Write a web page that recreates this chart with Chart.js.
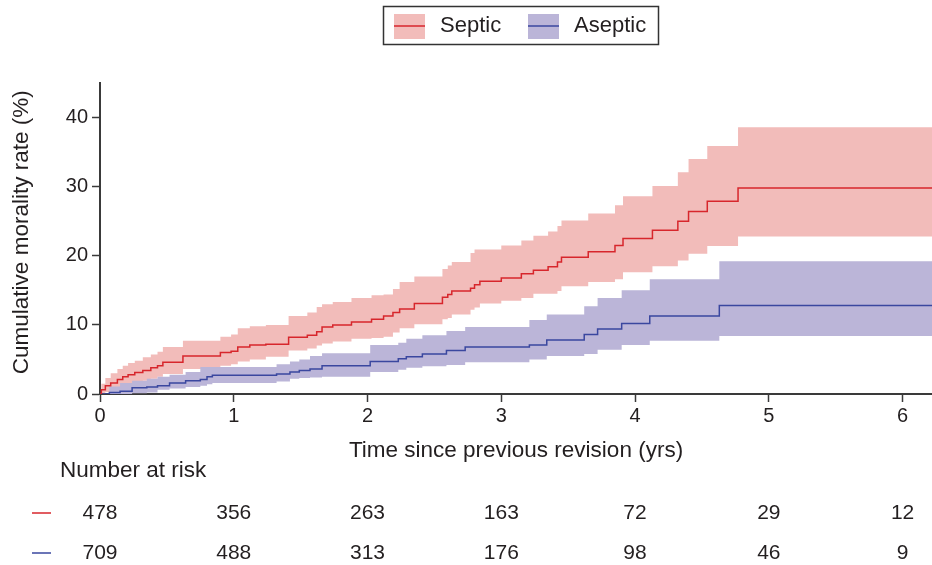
<!DOCTYPE html>
<html>
<head>
<meta charset="utf-8">
<script src="https://cdn.jsdelivr.net/npm/chart.js@4.4.0/dist/chart.umd.min.js"></script>
<style>
  html, body { margin: 0; padding: 0; background: #fff; }
</style>
</head>
<body>
<canvas id="kmChart" width="932" height="565"></canvas>
<script>
// cumulative mortality (%), step points
const septicTime  = [0, 0.01, 0.04, 0.08, 0.13, 0.17, 0.21, 0.26, 0.32, 0.38, 0.43, 0.47, 0.62, 0.90, 0.98, 1.03, 1.12, 1.24, 1.41, 1.55, 1.62, 1.66, 1.74, 1.88, 2.03, 2.12, 2.19, 2.24, 2.35, 2.56, 2.60, 2.63, 2.77, 2.80, 2.84, 3.00, 3.15, 3.24, 3.35, 3.42, 3.45, 3.65, 3.85, 3.91, 4.13, 4.32, 4.40, 4.54, 4.77, 6.22];
const septicRate  = [0, 0.6, 1.2, 1.6, 2.1, 2.5, 2.8, 3.1, 3.4, 3.8, 4.1, 4.6, 5.5, 6.0, 6.2, 6.8, 7.1, 7.2, 8.2, 8.5, 9.0, 9.7, 10.0, 10.4, 10.8, 11.3, 11.8, 12.3, 13.1, 14.0, 14.4, 14.9, 15.3, 15.8, 16.3, 16.8, 17.4, 17.9, 18.4, 19.1, 19.8, 20.6, 21.5, 22.5, 23.7, 25.0, 26.4, 27.9, 29.8, 29.8];
const septicLower = [0, 0.1, 0.3, 0.5, 0.8, 1.1, 1.3, 1.6, 1.9, 2.2, 2.5, 2.9, 3.6, 4.1, 4.3, 4.7, 5.0, 5.4, 6.3, 6.6, 7.0, 7.3, 7.6, 8.0, 8.1, 8.3, 8.9, 9.5, 10.1, 10.8, 11.0, 11.5, 12.2, 12.5, 13.1, 13.5, 13.9, 14.5, 14.5, 14.9, 15.6, 16.2, 16.6, 17.6, 18.5, 19.3, 20.3, 21.4, 22.8, 22.8];
const septicUpper = [0, 1.5, 2.3, 3.0, 3.6, 4.1, 4.5, 4.8, 5.3, 5.7, 6.1, 6.8, 7.7, 8.3, 8.6, 9.5, 9.8, 10.0, 11.3, 11.8, 12.6, 13.0, 13.3, 13.9, 14.3, 14.4, 15.2, 16.2, 17.0, 18.1, 18.6, 19.1, 20.4, 20.9, 20.9, 21.5, 22.2, 22.9, 23.5, 24.3, 25.1, 26.1, 27.3, 28.6, 30.1, 32.1, 34.0, 35.9, 38.6, 38.6];

const asepticTime  = [0, 0.07, 0.15, 0.24, 0.35, 0.43, 0.52, 0.64, 0.75, 0.80, 0.84, 1.32, 1.42, 1.49, 1.57, 1.66, 2.02, 2.23, 2.29, 2.41, 2.59, 2.73, 3.21, 3.34, 3.62, 3.72, 3.90, 4.11, 4.63, 6.22];
const asepticRate  = [0, 0.2, 0.4, 0.9, 1.0, 1.2, 1.6, 1.9, 2.1, 2.5, 2.7, 2.9, 3.2, 3.4, 3.6, 4.1, 4.7, 5.1, 5.4, 5.8, 6.3, 6.8, 7.1, 7.8, 8.6, 9.4, 10.2, 11.3, 12.8, 12.8];
const asepticLower = [0, 0.0, 0.0, 0.1, 0.2, 0.6, 0.8, 1.0, 1.2, 1.4, 1.6, 1.8, 2.2, 2.3, 2.4, 2.5, 3.2, 3.5, 3.8, 4.0, 4.2, 4.6, 5.0, 5.5, 5.8, 6.4, 7.1, 7.7, 8.4, 8.4];
const asepticUpper = [0, 1.1, 1.6, 1.9, 2.2, 2.5, 2.8, 3.2, 3.9, 3.9, 3.9, 4.3, 4.7, 5.0, 5.5, 5.9, 7.1, 7.4, 8.0, 8.5, 9.1, 9.7, 10.7, 11.5, 12.7, 13.9, 15.0, 16.6, 19.2, 19.2];

const xTicks = [0, 1, 2, 3, 4, 5, 6];
const yTicks = [0, 10, 20, 30, 40];
const groupNames = ['Septic', 'Aseptic'];
const septicRisk = [478, 356, 263, 163, 72, 29, 12];
const asepticRisk = [709, 488, 313, 176, 98, 46, 9];

const redLine = '#d7262c';
const redFill = '#f2bcba';
const blueLine = '#3a479f';
const blueFill = '#bbb5d8';
const textCol = '#231f20';
const axisCol = '#3a3a3a';
const FONT = "'Liberation Sans', Arial, sans-serif";

function pts(times, vals) {
  return times.map((t, i) => ({ x: t, y: vals[i] }));
}

function bandSet(data, col, fillTo, order) {
  return {
    data: data,
    borderWidth: 0,
    borderColor: col,
    backgroundColor: col,
    pointRadius: 0,
    stepped: true,
    fill: fillTo,
    order: order
  };
}

// legend box + number at risk table
const extras = {
  id: 'extras',
  afterDraw(chart) {
    const ctx = chart.ctx;
    const xs = chart.scales.x;
    ctx.save();

    // legend
    ctx.strokeStyle = '#333';
    ctx.lineWidth = 1.5;
    ctx.strokeRect(383.5, 6.5, 275, 38);
    const items = [
      { name: groupNames[0], x: 394, fill: redFill, line: redLine },
      { name: groupNames[1], x: 528, fill: blueFill, line: blueLine }
    ];
    ctx.font = '22px ' + FONT;
    ctx.textBaseline = 'middle';
    ctx.textAlign = 'left';
    items.forEach(it => {
      ctx.fillStyle = it.fill;
      ctx.fillRect(it.x, 14, 31, 25);
      ctx.strokeStyle = it.line;
      ctx.lineWidth = 1.5;
      ctx.beginPath();
      ctx.moveTo(it.x, 26);
      ctx.lineTo(it.x + 31, 26);
      ctx.stroke();
      ctx.fillStyle = textCol;
      ctx.fillText(it.name, it.x + 46, 26);
    });

    // number at risk
    ctx.font = '22.5px ' + FONT;
    ctx.fillStyle = textCol;
    ctx.fillText('Number at risk', 60, 471);
    const rows = [
      { vals: septicRisk, y: 513, col: redLine },
      { vals: asepticRisk, y: 553, col: blueLine }
    ];
    ctx.font = '21px ' + FONT;
    ctx.textAlign = 'center';
    rows.forEach(r => {
      ctx.strokeStyle = r.col;
      ctx.lineWidth = 1.5;
      ctx.beginPath();
      ctx.moveTo(32, r.y);
      ctx.lineTo(51, r.y);
      ctx.stroke();
      ctx.fillStyle = textCol;
      r.vals.forEach((v, i) => {
        ctx.fillText(String(v), xs.getPixelForValue(xTicks[i]), r.y);
      });
    });
    ctx.restore();
  }
};

new Chart('kmChart', {
  type: 'line',
  data: {
    datasets: [
      { data: pts(septicTime, septicRate), borderColor: redLine, borderWidth: 1.5, pointRadius: 0, stepped: true, fill: false, order: 0 },
      { data: pts(asepticTime, asepticRate), borderColor: blueLine, borderWidth: 1.5, pointRadius: 0, stepped: true, fill: false, order: 1 },
      bandSet(pts(asepticTime, asepticUpper), blueFill, 3, 2),
      bandSet(pts(asepticTime, asepticLower), blueFill, false, 3),
      bandSet(pts(septicTime, septicUpper), redFill, 5, 4),
      bandSet(pts(septicTime, septicLower), redFill, false, 5)
    ]
  },
  options: {
    responsive: false,
    animation: false,
    devicePixelRatio: 1,
    layout: { padding: { top: 83, right: 0, bottom: 0, left: 0 } },
    plugins: {
      legend: { display: false },
      tooltip: { enabled: false }
    },
    scales: {
      x: {
        type: 'linear',
        min: 0,
        max: 6.22,
        afterBuildTicks: s => { s.ticks = xTicks.map(v => ({ value: v })); },
        afterFit: s => { s.height = 171; },
        grid: { drawOnChartArea: false, drawTicks: true, tickLength: 8, color: axisCol, tickWidth: 1.5 },
        border: { display: true, color: axisCol, width: 2 },
        ticks: { color: textCol, font: { family: FONT, size: 20 }, padding: 2, maxRotation: 0 },
        title: {
          display: true,
          text: 'Time since previous revision (yrs)',
          color: textCol,
          font: { family: FONT, size: 22.5 },
          padding: { top: 0, bottom: 101 }
        }
      },
      y: {
        min: 0,
        max: 45,
        afterBuildTicks: s => { s.ticks = yTicks.map(v => ({ value: v })); },
        afterFit: s => { s.width = 100; },
        grid: { drawOnChartArea: false, drawTicks: true, tickLength: 8, color: axisCol, tickWidth: 1.5 },
        border: { display: true, color: axisCol, width: 2 },
        ticks: { color: textCol, font: { family: FONT, size: 20 }, padding: 4 },
        title: {
          display: true,
          // leading spaces nudge the rotated label up a little, as in the source
          text: '  Cumulative morality rate (%)',
          color: textCol,
          font: { family: FONT, size: 22.5 },
          padding: { top: 8, bottom: 0 }
        }
      }
    }
  },
  plugins: [extras]
});
</script>
</body>
</html>
